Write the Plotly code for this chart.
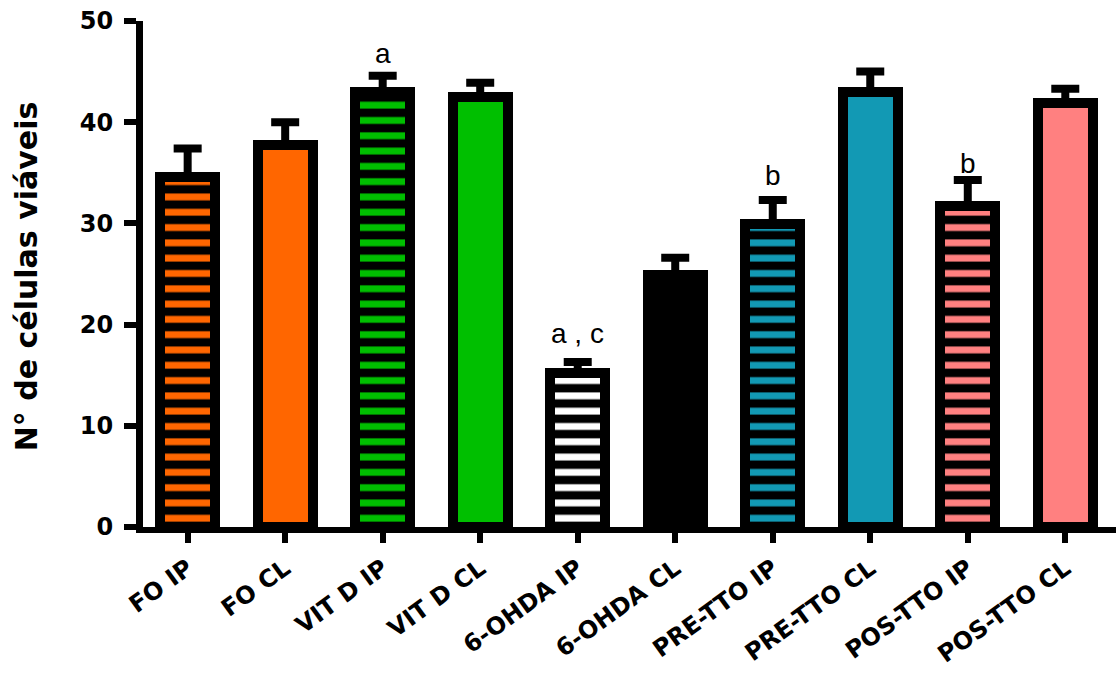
import plotly.graph_objects as go

# Group labels, means and SEM (número de células viáveis)
groups = ["FO IP", "FO CL", "VIT D IP", "VIT D CL", "6-OHDA IP", "6-OHDA CL",
          "PRE-TTO IP", "PRE-TTO CL", "POS-TTO IP", "POS-TTO CL"]
means = [34.6, 37.7, 43.0, 42.5, 15.2, 24.9, 29.9, 43.0, 31.7, 41.9]
sem = [2.8, 2.3, 1.6, 1.4, 1.1, 1.7, 2.4, 2.0, 2.6, 1.4]
colors = ["#FF6600", "#FF6600", "#00BF00", "#00BF00", "#FFFFFF", "#000000",
          "#1299B4", "#1299B4", "#FF8080", "#FF8080"]
striped = [True, False, True, False, True, False, True, False, True, False]

# Significance letters: (group index, text, y position)
sig_idx = [2, 4, 6, 8]
sig_text = ["a", "a , c", "b", "b"]
sig_y = [46.8, 19.1, 34.7, 35.9]

yticks = [0, 10, 20, 30, 40, 50]

fig = go.Figure()

for i, g in enumerate(groups):
    if striped[i]:
        marker = dict(
            color="black",
            line=dict(color="black", width=10),
            pattern=dict(shape="-", fgcolor=colors[i], bgcolor="black",
                         size=15.3, solidity=0.45, fillmode="replace"),
        )
    else:
        marker = dict(color=colors[i], line=dict(color="black", width=10))
    fig.add_trace(go.Bar(
        x=[i], y=[means[i]], width=0.565, marker=marker,
        error_y=dict(type="data", array=[sem[i]], arrayminus=[0], symmetric=False,
                     color="black", thickness=8, width=14),
        showlegend=False, hoverinfo="skip",
    ))

for k, i in enumerate(sig_idx):
    fig.add_annotation(x=i, y=sig_y[k], text=sig_text[k], showarrow=False,
                       xref="x", yref="y", yanchor="middle",
                       font=dict(family="Liberation Sans, Arial", size=28, color="black"))

fig.add_annotation(x=-0.12, y=0.496, xref="paper", yref="paper",
                   text="N° de células viáveis", textangle=-90, showarrow=False,
                   xanchor="center", yanchor="middle",
                   font=dict(family="DejaVu Sans", size=30, color="black", weight="bold"))

fig.update_layout(
    width=1116, height=700,
    margin=dict(l=143, r=0, t=21, b=173),
    paper_bgcolor="white", plot_bgcolor="white",
    bargap=0.0,
    xaxis=dict(
        range=[-0.458, 9.52], tickmode="array", tickvals=list(range(len(groups))),
        ticktext=groups, tickangle=-36, showgrid=False, zeroline=False,
        showline=True, linecolor="black", linewidth=6,
        ticks="outside", ticklen=10, tickwidth=6, tickcolor="black",
        ticklabelstandoff=2,
        tickfont=dict(family="DejaVu Sans", size=24, color="black", weight="bold"),
    ),
    yaxis=dict(
        range=[0, 50], tickmode="array", tickvals=yticks,
        ticktext=[str(v) for v in yticks], showgrid=False, zeroline=False,
        showline=True, linecolor="black", linewidth=7,
        ticks="outside", ticklen=12, tickwidth=6, tickcolor="black",
        ticklabelstandoff=6,
        tickfont=dict(family="DejaVu Sans", size=24, color="black", weight="bold"),
    ),
)

fig.write_html("out.html")
